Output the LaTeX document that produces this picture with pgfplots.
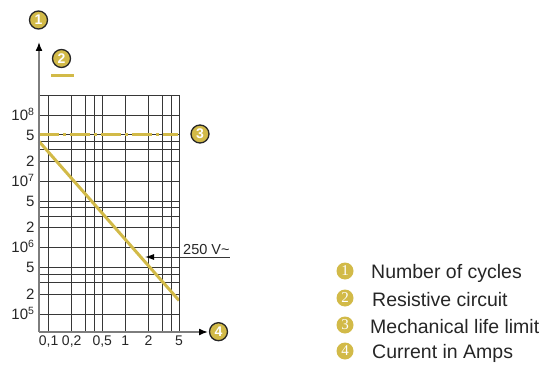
\documentclass[border=0pt]{standalone}
\usepackage{fontspec}
\setmainfont{Liberation Sans}
\newfontfamily\seriffont{Liberation Serif}
\usepackage{pgfplots}
\pgfplotsset{compat=1.18}
\usetikzlibrary{arrows.meta}
\definecolor{gold}{RGB}{210,186,72}
\definecolor{gridc}{RGB}{55,55,55}
\definecolor{axc}{RGB}{125,125,125}
\newcommand{\topcirc}[3]{%
  \filldraw[fill=gold, draw=black!85, line width=1.3pt] (#1,#2) circle[radius=9pt];
  \node[inner sep=0pt, text=white, font=\bfseries\fontsize{14}{14}\selectfont] at (#1,#2) {#3};}
\newcommand{\legcirc}[3]{%
  \fill[gold] (#1,#2) circle[radius=8.5pt];
  \node[inner sep=0pt, text=white, font=\seriffont\fontsize{15}{15}\selectfont] at (#1,#2) {#3};}
\begin{document}
\begin{tikzpicture}[x=1pt,y=1pt,
  legt/.style={anchor=base west, inner sep=0pt, font=\fontsize{19.5}{22}\selectfont, text=black!85}]
\useasboundingbox (0,0) rectangle (546,365);
\begin{axis}[at={(39pt,33pt)}, anchor=south west, scale only axis,
  width=140pt, height=237pt,
  xmode=log, ymode=log,
  xmin=0.075, xmax=5, ymin=5.35e4, ymax=2e8,
  axis line style={draw=none}, major tick length=0pt, tick style={draw=none},
  xtick={0.1,0.2,0.3,0.4,0.5,1,2,3,4,5},
  xticklabels={{0,1},{0,2},{},{},{0,5},1,2,{},{},5},
  ytick={1e5,2e5,3e5,4e5,5e5,1e6,2e6,3e6,4e6,5e6,1e7,2e7,3e7,4e7,5e7,1e8},
  yticklabels={10\textsuperscript{5},2,{},{},5,10\textsuperscript{6},2,{},{},5,10\textsuperscript{7},2,{},{},5,10\textsuperscript{8}},
  grid=major, major grid style={gridc, line width=0.9pt},
  xticklabel style={font=\fontsize{14}{16}\selectfont, text=black!85},
  yticklabel style={font=\fontsize{15}{16}\selectfont, text=black!85, anchor=base east, yshift=-5.3pt, xshift=-1pt},
  clip=false]
\addplot[gold, line width=3pt, dash pattern=on 20pt off 4pt on 3pt off 4pt] coordinates {(0.075,5e7) (4.8,5e7)};
\addplot[gold, line width=3pt] coordinates {(0.075,4e7) (5,1.6e5)};
\draw[gridc, line width=0.9pt] (rel axis cs:0,1) -- (rel axis cs:1,1) -- (rel axis cs:1,0);
\end{axis}
% axes with arrows
\draw[axc, line width=1.5pt, -{Latex[black,length=9pt,width=7pt]}] (39,33) -- (39,323);
\draw[axc, line width=1.5pt, -{Latex[black,length=9pt,width=7pt]}] (39,33) -- (208,33);
% 250 V annotation
\draw[gridc, line width=0.9pt, {Latex[black,length=9pt,width=6pt]}-] (145,108) -- (230,108);
\node[anchor=base west, inner sep=0pt, font=\fontsize{14.5}{16}\selectfont, text=black!85] at (183,110.5) {250 V\textasciitilde};
% legend line 2
\draw[gold, line width=3pt] (51,289) -- (74,289);
% numbered circles
\topcirc{38.5}{345}{1}
\topcirc{61.5}{306.5}{2}
\topcirc{200}{231}{3}
\topcirc{218.5}{33.3}{4}
% legend
\legcirc{345}{94}{1}
\legcirc{345}{67}{2}
\legcirc{345}{40}{3}
\legcirc{345}{14}{4}
\node[legt] at (371,86.3) {Number of cycles};
\node[legt] at (372,58.7) {Resistive circuit};
\node[legt] at (370,32) {Mechanical life limit};
\node[legt] at (372,6.3) {Current in Amps};
\end{tikzpicture}
\end{document}
